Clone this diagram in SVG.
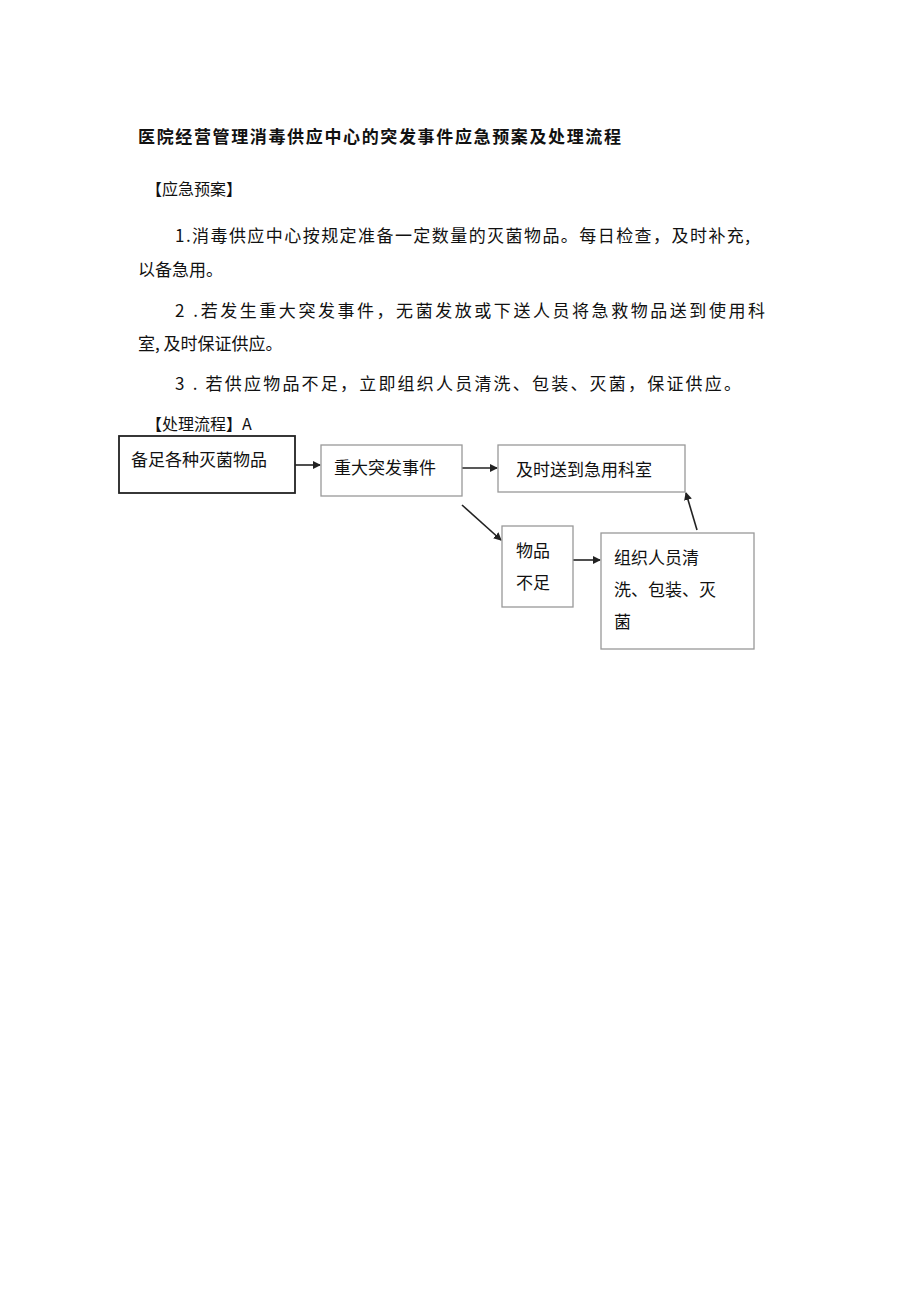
<svg xmlns="http://www.w3.org/2000/svg" width="920" height="1301" viewBox="0 0 920 1301">
<style>
text{font-family:"Noto Sans CJK SC","Liberation Sans",sans-serif;fill:#111}
.p{font-size:17px}
.b{font-size:17px}
.n rect{fill:#fff;stroke:#999;stroke-width:1.3}
.c line{stroke:#222;stroke-width:1.6;marker-end:url(#a)}
</style>
<defs><marker id="a" markerWidth="8" markerHeight="8" refX="7" refY="4" orient="auto" markerUnits="userSpaceOnUse"><path d="M0,0L8,4L0,8Z" fill="#222"/></marker></defs>
<rect width="920" height="1301" fill="#fff"/>
<text x="138" y="143" font-size="17" font-weight="bold" textLength="483">医院经营管理消毒供应中心的突发事件应急预案及处理流程</text>
<text x="146" y="195" font-size="16">【应急预案】</text>
<text class="p" x="175" y="242" textLength="575">1.消毒供应中心按规定准备一定数量的灭菌物品。每日检查，及时补充,</text>
<text class="p" x="138" y="276">以备急用。</text>
<text class="p" x="175" y="317" textLength="590">2  .若发生重大突发事件，无菌发放或下送人员将急救物品送到使用科</text>
<text class="p" x="138" y="350">室, 及时保证供应。</text>
<text class="p" x="175" y="390" textLength="566">3      . 若供应物品不足，立即组织人员清洗、包装、灭菌，保证供应。</text>
<text x="146" y="430" font-size="16">【处理流程】A</text>
<g class="c">
<line x1="295" y1="465" x2="320" y2="465"/>
<line x1="462" y1="468" x2="497" y2="468"/>
<line x1="462" y1="505" x2="501" y2="540"/>
<line x1="573" y1="560" x2="600" y2="560"/>
<line x1="697" y1="530" x2="686" y2="493"/>
</g>
<g id="n1" class="n"><rect x="119" y="436" width="176" height="57" style="stroke:#222;stroke-width:1.8"/><text class="b" x="131" y="466">备足各种灭菌物品</text></g>
<g id="n2" class="n"><rect x="321" y="445" width="141" height="51"/><text class="b" x="334" y="474">重大突发事件</text></g>
<g id="n3" class="n"><rect x="498" y="445" width="187" height="47"/><text class="b" x="516" y="476">及时送到急用科室</text></g>
<g id="n4" class="n"><rect x="502" y="526" width="71" height="81"/><text class="b" x="516" y="557">物品</text><text class="b" x="516" y="589">不足</text></g>
<g id="n5" class="n"><rect x="601" y="533" width="153" height="116"/><text class="b" x="614" y="564">组织人员清</text><text class="b" x="614" y="596">洗、包装、灭</text><text class="b" x="614" y="628">菌</text></g>
</svg>
